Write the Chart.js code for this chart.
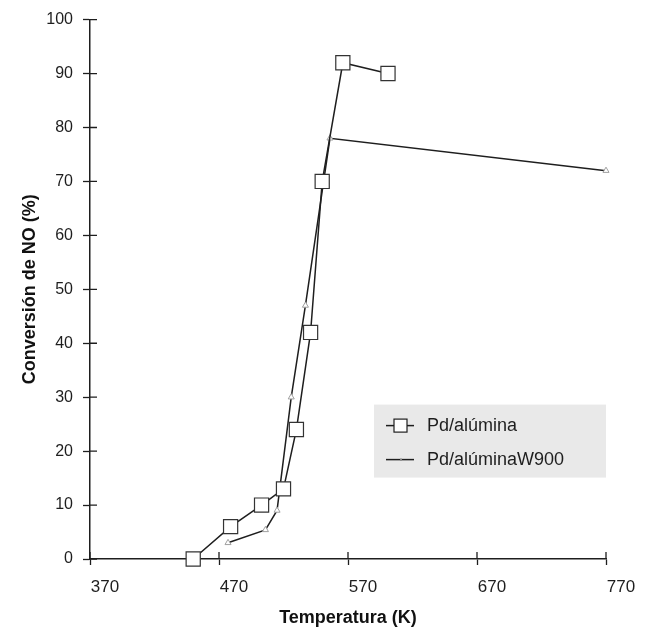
<!DOCTYPE html>
<html>
<head>
<meta charset="utf-8">
<script src="https://cdn.jsdelivr.net/npm/chart.js@4/dist/chart.umd.min.js"></script>
<style>
  html, body { margin: 0; padding: 0; background: #fff; }
  #wrap { width: 648px; height: 630px; }
</style>
</head>
<body>
<div id="wrap"><canvas id="graph" width="648" height="630"></canvas></div>
<script>
// datos
let tempAlumina = [450, 479, 503, 520, 530, 541, 550, 566, 601]
let convAlumina = [0, 6, 10, 13, 24, 42, 70, 92, 90]

let tempW900 = [477, 506, 515, 526, 537, 556, 770]
let convW900 = [3, 5.4, 9, 30, 47, 78, 72]

let xTicks = [370, 470, 570, 670, 770]
let yTicks = [0, 10, 20, 30, 40, 50, 60, 70, 80, 90, 100]

let seriesNames = ['Pd/alúmina', 'Pd/alúminaW900']

let ink = '#1e1e1e'
let fontName = '"Liberation Sans", Arial, Helvetica, sans-serif'

function toPoints(xs, ys) {
    return xs.map((x, i) => ({ x: x, y: ys[i] }))
}

// marcas de eje hacia adentro (los ticks cruzan el eje)
let innerTicks = {
    id: 'innerTicks',
    afterDraw(chart) {
        let ctx = chart.ctx
        let area = chart.chartArea
        let sx = chart.scales.x
        let sy = chart.scales.y
        ctx.save()
        ctx.strokeStyle = ink
        ctx.lineWidth = 1.3
        ctx.beginPath()
        yTicks.forEach(v => {
            let py = sy.getPixelForValue(v)
            ctx.moveTo(area.left, py)
            ctx.lineTo(area.left + 7, py)
        })
        xTicks.forEach(v => {
            let px = sx.getPixelForValue(v)
            ctx.moveTo(px, area.bottom)
            ctx.lineTo(px, area.bottom - 7)
        })
        ctx.stroke()
        ctx.restore()
    }
}

// leyenda dibujada dentro del area del grafico
let boxLegend = {
    id: 'boxLegend',
    afterDraw(chart) {
        let ctx = chart.ctx
        let area = chart.chartArea
        let bx = area.right - 232
        let by = area.top + 385
        ctx.save()
        ctx.fillStyle = '#e9e9e9'
        ctx.fillRect(bx, by, 232, 73)

        let rows = [by + 21, by + 55]
        chart.data.datasets.forEach((ds, i) => {
            let ly = rows[i]
            ctx.strokeStyle = ds.borderColor
            ctx.lineWidth = 1.5
            ctx.beginPath()
            ctx.moveTo(bx + 12, ly)
            ctx.lineTo(bx + 40, ly)
            ctx.stroke()
            if (i === 0) {
                ctx.fillStyle = '#fff'
                ctx.fillRect(bx + 20, ly - 6.5, 13, 13)
                ctx.lineWidth = 1.2
                ctx.strokeRect(bx + 20, ly - 6.5, 13, 13)
            } else {
                ctx.fillStyle = '#888'
                ctx.fillRect(bx + 26, ly - 1, 2, 2)
            }
            ctx.fillStyle = ink
            ctx.font = '18px ' + fontName
            ctx.textBaseline = 'middle'
            ctx.textAlign = 'left'
            ctx.fillText(ds.label, bx + 53, ly)
        })
        ctx.restore()
    }
}

let ctxGraph = document.getElementById('graph').getContext('2d')

let graph = new Chart(ctxGraph, {
    type: 'line',
    data: {
        datasets: [
            {
                label: seriesNames[0],
                data: toPoints(tempAlumina, convAlumina),
                borderColor: ink,
                borderWidth: 1.5,
                pointStyle: 'rect',
                pointRadius: 10,
                pointBorderWidth: 1.2,
                pointBorderColor: '#333',
                pointBackgroundColor: '#fff',
                tension: 0,
                clip: false
            },
            {
                label: seriesNames[1],
                data: toPoints(tempW900, convW900),
                borderColor: ink,
                borderWidth: 1.5,
                pointStyle: 'triangle',
                pointRadius: 3.5,
                pointBorderWidth: 1,
                pointBorderColor: '#a0a0a0',
                pointBackgroundColor: '#fff',
                tension: 0,
                clip: false
            }
        ]
    },
    options: {
        responsive: false,
        animation: false,
        devicePixelRatio: 1,
        layout: { padding: { left: 0, top: 17, right: 42, bottom: 0 } },
        plugins: {
            legend: { display: false },
            tooltip: { enabled: false }
        },
        scales: {
            x: {
                type: 'linear',
                min: 370,
                max: 770,
                afterBuildTicks: s => { s.ticks = xTicks.map(v => ({ value: v })) },
                afterFit: s => { s.height = 71 },
                grid: { drawOnChartArea: false, drawTicks: true, tickLength: 6, color: ink, tickWidth: 1.3 },
                border: { color: ink, width: 1.5 },
                ticks: {
                    color: ink,
                    font: { family: fontName, size: 17 },
                    padding: 12,
                    labelOffset: 15,
                    maxRotation: 0
                },
                title: {
                    display: true,
                    text: 'Temperatura (K)',
                    color: '#111',
                    font: { family: fontName, size: 18, weight: 'bold' },
                    padding: { top: 0, bottom: 1 }
                }
            },
            y: {
                min: 0,
                max: 100,
                afterBuildTicks: s => { s.ticks = yTicks.map(v => ({ value: v })) },
                afterFit: s => { s.width = 90 },
                grid: { drawOnChartArea: false, drawTicks: true, tickLength: 7, color: ink, tickWidth: 1.3 },
                border: { color: ink, width: 1.5 },
                ticks: {
                    color: ink,
                    font: { family: fontName, size: 16 },
                    padding: 10
                },
                title: {
                    display: true,
                    text: 'Conversión de NO (%)',
                    color: '#111',
                    font: { family: fontName, size: 18, weight: 'bold' },
                    padding: { top: 19, bottom: 0 }
                }
            }
        }
    },
    plugins: [innerTicks, boxLegend]
})
</script>
</body>
</html>
